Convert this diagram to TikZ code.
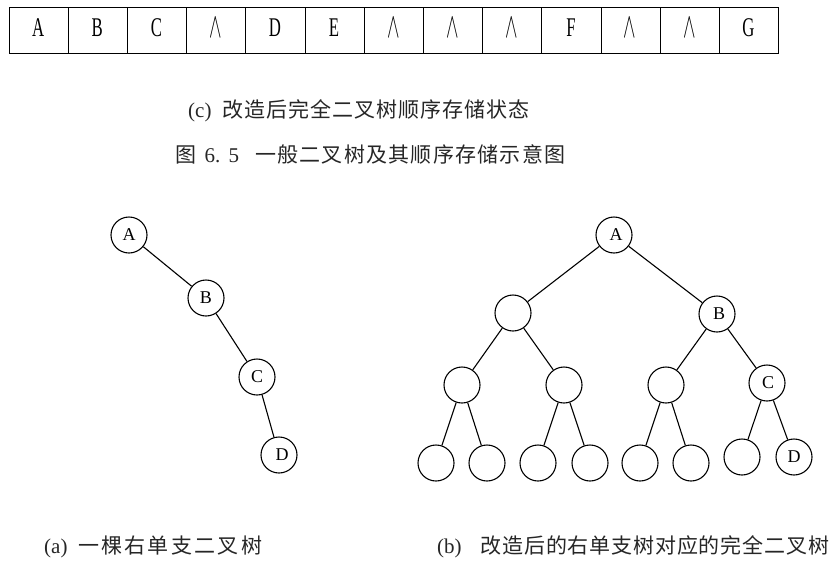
\documentclass[tikz,border=0pt]{standalone}
\usepackage{fontspec}
\usepackage{graphicx}
\setmainfont{Liberation Serif}
\newfontfamily\cjka[LetterSpace=11]{Noto Sans CJK SC}
\newfontfamily\cjkb[LetterSpace=4]{Noto Sans CJK SC}
\newfontfamily\cjkc[LetterSpace=5]{Noto Sans CJK SC}
\newfontfamily\cjkf[LetterSpace=6]{Noto Sans CJK SC}
\newfontfamily\cjk{Noto Sans CJK SC}
\begin{document}
\begin{tikzpicture}[x=1pt,y=-1pt,
  cellbox/.style={draw,line width=1.1pt,minimum width=59.2pt,minimum height=46pt,inner sep=0pt,anchor=north west},
  celltext/.style={font=\fontsize{27}{27}\selectfont,inner sep=0pt,anchor=base},
  tnode/.style={draw,circle,line width=1.1pt,minimum size=36pt,inner sep=0pt,font=\fontsize{18}{18}\selectfont},
  tedge/.style={line width=1.1pt},
  captext/.style={font=\fontsize{21}{21}\selectfont,inner sep=0pt,text=black!85}]
\useasboundingbox (0,0) rectangle (833,568);
% array
\foreach \i in {0,...,12}{
  \node[cellbox] (c\i) at ({8.5+59.2*\i},6.5) {};
}
\foreach \i/\t in {0/A,1/B,2/C,4/D,5/E,9/F,12/G}{
  \node[celltext] (t\i) at ({8.5+59.2*(\i+0.5)},36) {\scalebox{0.62}[1]{\t}};
}
\foreach \i in {3,6,7,8,10,11}{
  \node[celltext] (w\i) at ({8.5+59.2*(\i+0.5)},37) {\fontsize{20}{20}\selectfont\scalebox{0.9}[1.7]{$\wedge$}};
}
% captions
\node[captext,anchor=west] (capc) at (188,111) {(c)\ \ {\cjkc 改造后完全二叉树顺序存储状态}};
\node[captext,anchor=west] (capfig) at (175,154) {{\cjk 图}\hspace{0.4em}6.\hspace{0.4em}5\hspace{0.75em}{\cjkf 一般二叉树及其顺序存储示意图}};
% tree (a)
\node[tnode] (aA) at (129,235) {A};
\node[tnode] (aB) at (206,298) {B};
\node[tnode] (aC) at (257,377) {C};
\node[tnode] (aD) at (279,455) {\hspace{6pt}D};
\draw[tedge] (aA) -- (aB);
\draw[tedge] (aB) -- (aC);
\draw[tedge] (aC) -- (aD);
% tree (b)
\node[tnode] (bA) at (614,235) {\hspace{4pt}A};
\node[tnode] (bL) at (513,313) {};
\node[tnode] (bB) at (717,314) {\hspace{4pt}B};
\node[tnode] (bLL) at (462,385) {};
\node[tnode] (bLR) at (564,385) {};
\node[tnode] (bBL) at (666,385) {};
\node[tnode] (bC) at (767,383) {\hspace{2pt}C};
\node[tnode] (b1) at (436,463) {};
\node[tnode] (b2) at (487,463) {};
\node[tnode] (b3) at (538,463) {};
\node[tnode] (b4) at (590,463) {};
\node[tnode] (b5) at (640,463) {};
\node[tnode] (b6) at (691,463) {};
\node[tnode] (b7) at (742,457) {};
\node[tnode] (bD) at (794,457) {D};
\foreach \p/\c in {bA/bL,bA/bB,bL/bLL,bL/bLR,bB/bBL,bB/bC,bLL/b1,bLL/b2,bLR/b3,bLR/b4,bBL/b5,bBL/b6,bC/b7,bC/bD}{
  \draw[tedge] (\p) -- (\c);
}
% bottom captions
\node[captext,anchor=west] (capa) at (44,547) {(a)\ \ {\cjka 一棵右单支二叉树}};
\node[captext,anchor=west] (capb) at (437,547) {(b)\hspace{0.9em}{\cjkb 改造后的右单支树对应的完全二叉树}};
\end{tikzpicture}
\end{document}
